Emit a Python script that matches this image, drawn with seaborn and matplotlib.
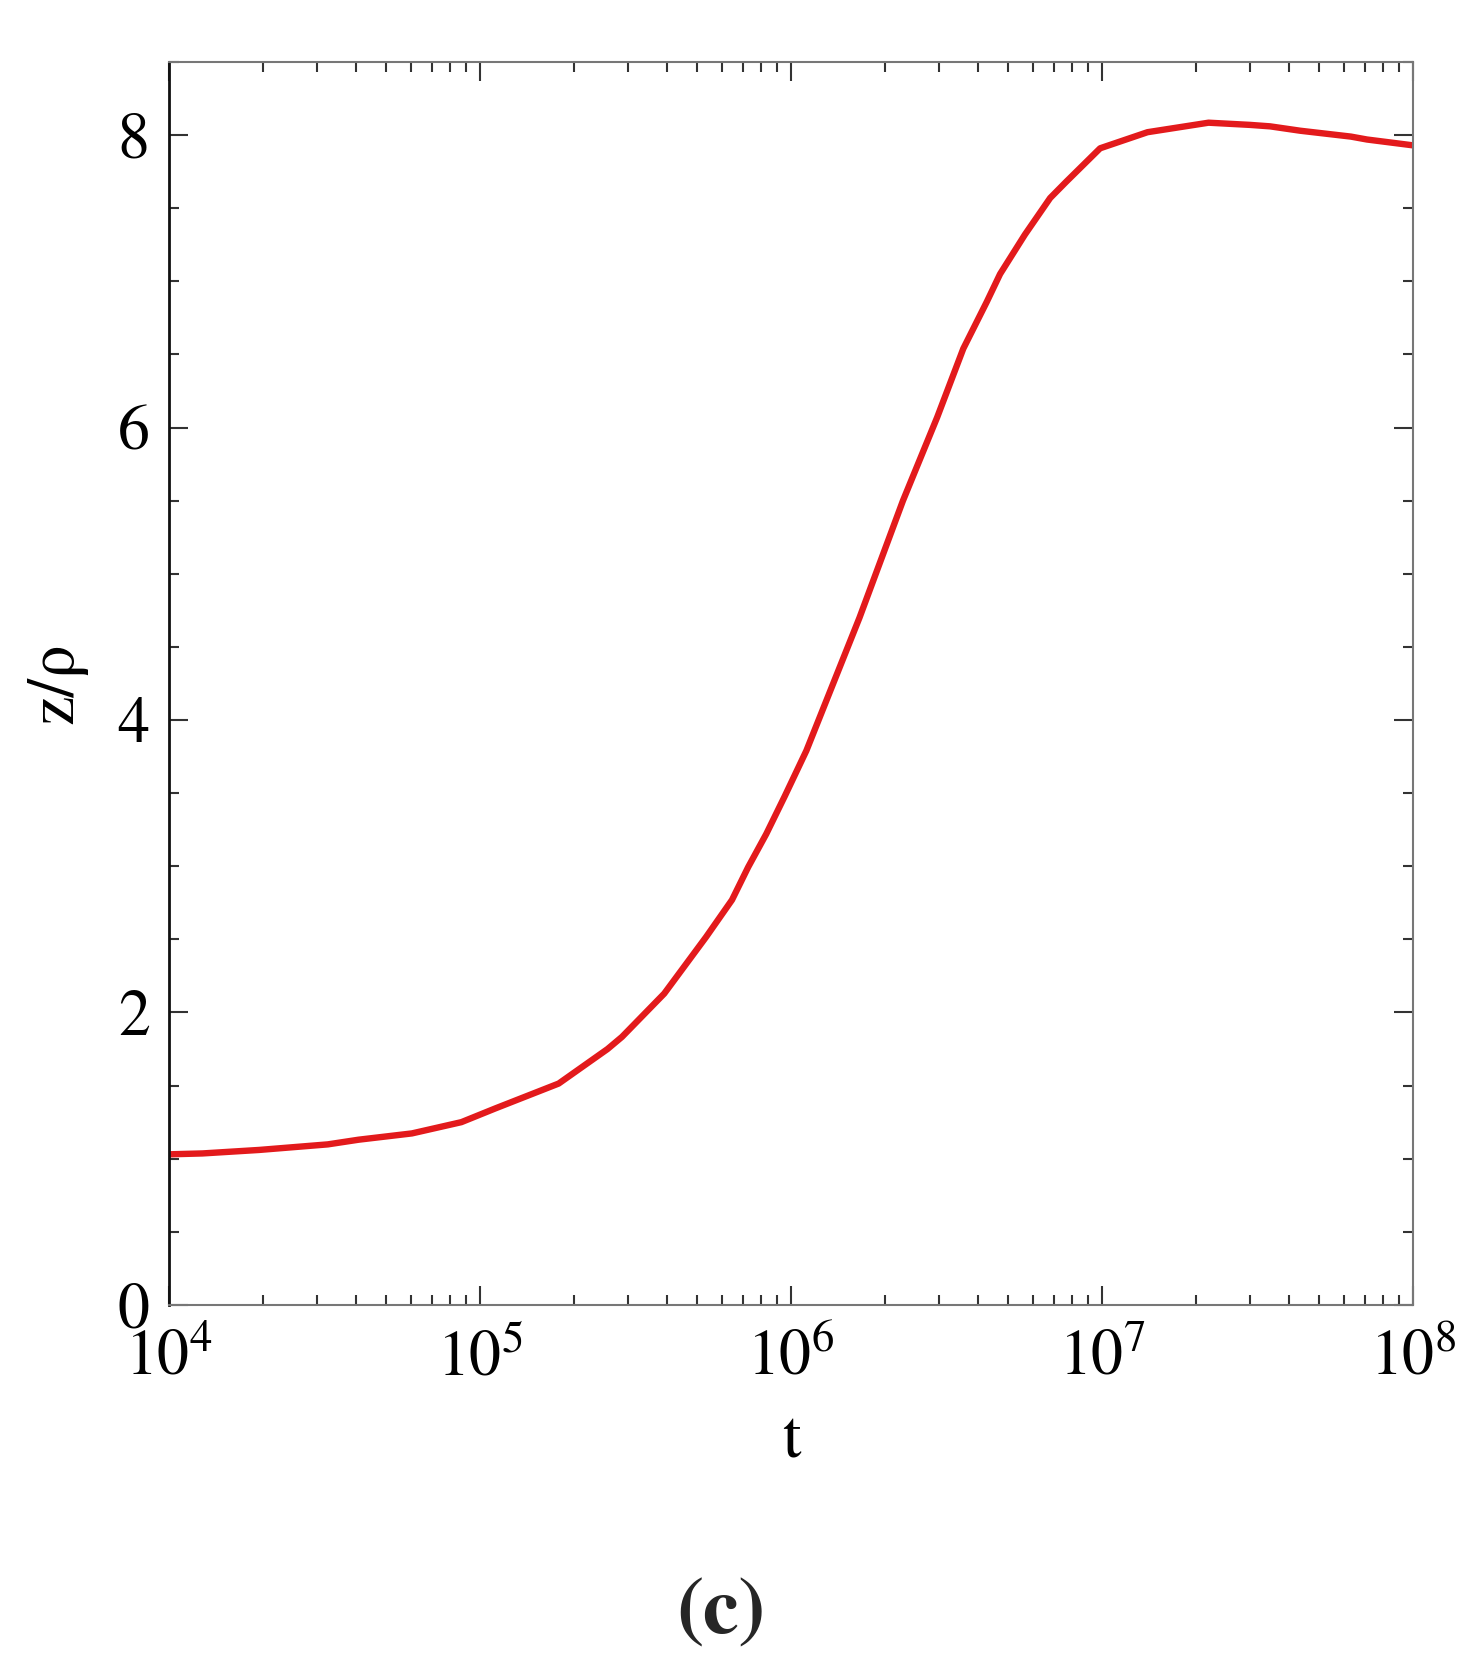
import matplotlib
matplotlib.use('Agg')
import matplotlib.pyplot as plt
import seaborn as sns
from matplotlib.ticker import LogLocator, MultipleLocator, NullFormatter

# values
t = [1.00e4, 1.28e4, 1.95e4, 3.24e4, 4.07e4, 6.04e4, 8.71e4, 1.12e5, 1.79e5,
     2.57e5, 2.86e5, 3.91e5, 5.33e5, 6.46e5, 7.28e5, 8.32e5, 9.55e5, 1.12e6,
     1.66e6, 2.29e6, 2.95e6, 3.58e6, 4.26e6, 4.70e6, 5.65e6, 6.81e6, 7.66e6,
     9.86e6, 1.40e7, 2.20e7, 2.99e7, 3.47e7, 4.34e7, 6.31e7, 7.11e7, 1.00e8]
z_rho = [1.03, 1.036, 1.06, 1.098, 1.13, 1.173, 1.25, 1.344, 1.514,
         1.75, 1.833, 2.129, 2.516, 2.77, 2.994, 3.22, 3.48, 3.79,
         4.70, 5.50, 6.07, 6.54, 6.86, 7.05, 7.32, 7.57, 7.68,
         7.91, 8.02, 8.085, 8.07, 8.06, 8.03, 7.99, 7.97, 7.93]

sns.set_style('ticks')
plt.rcParams['font.family'] = ['STIXGeneral', 'Liberation Serif', 'DejaVu Serif']
plt.rcParams['mathtext.fontset'] = 'stix'

fig = plt.figure(figsize=(14.75, 16.76), dpi=100)
ax = fig.add_axes([0.1146, 0.2214, 0.8434, 0.7416])

sns.lineplot(x=t, y=z_rho, color='#e31a1c', linewidth=4.6, ax=ax)

ax.set_xscale('log')
ax.set_xlim(1e4, 1e8)
ax.set_ylim(0, 8.5)
ax.xaxis.set_major_locator(LogLocator(base=10, numticks=10))
ax.xaxis.set_minor_locator(LogLocator(base=10, subs=range(2, 10), numticks=20))
ax.xaxis.set_minor_formatter(NullFormatter())
ax.yaxis.set_major_locator(MultipleLocator(2))
ax.yaxis.set_minor_locator(MultipleLocator(0.5))

ax.tick_params(which='both', direction='in', top=True, right=True,
               color='#333333', width=1.5, labelcolor='black')
ax.tick_params(which='major', length=14, labelsize=46)
ax.tick_params(axis='x', which='major', pad=18)
ax.tick_params(axis='y', which='major', pad=14)
ax.tick_params(which='minor', length=7)

for side in ['top', 'right', 'bottom']:
    ax.spines[side].set_color('#777777')
    ax.spines[side].set_linewidth(1.5)
ax.spines['left'].set_color('#111111')
ax.spines['left'].set_linewidth(2)

ax.set_xlabel('t', fontsize=48, labelpad=16, color='black')
ax.set_ylabel('z/ρ', fontsize=48, labelpad=22, color='black')

fig.text(0.489, 0.037, '(c)', fontsize=58, fontweight='bold',
         ha='center', va='center')

fig.savefig('out.png', dpi=100)
